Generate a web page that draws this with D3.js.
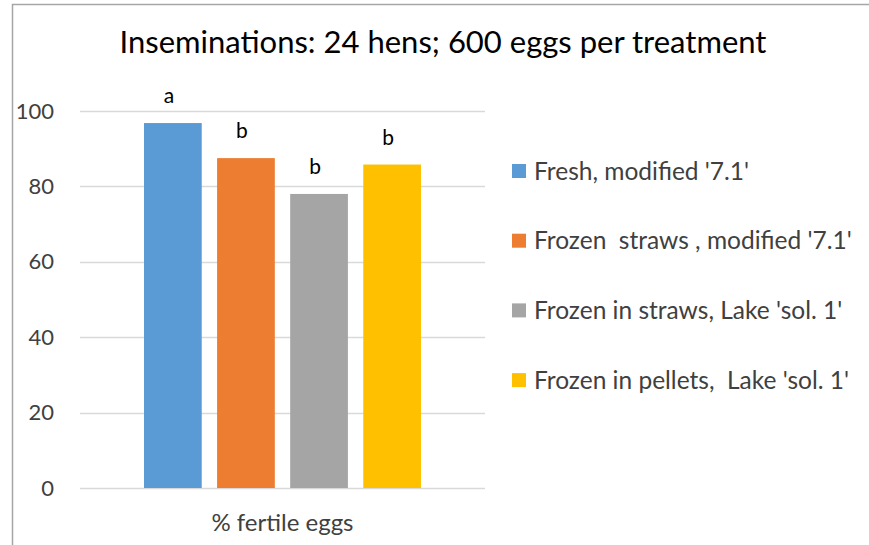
<!DOCTYPE html>
<html>
<head>
<meta charset="utf-8">
<script src="https://cdn.jsdelivr.net/npm/d3@7"></script>
<style>
    body { margin: 0; background: #fff; }
    text { font-family: Lato, "Open Sans", sans-serif; }
</style>
</head>
<body>
<div id="chart"></div>
<script>
// chart data
var treatments = ["Fresh, modified '7.1'", "Frozen  straws , modified '7.1'", "Frozen in straws, Lake 'sol. 1'", "Frozen in pellets,  Lake 'sol. 1'"];
var fertile = [96.8, 87.5, 78, 85.8];
var letters = ["a", "b", "b", "b"];
var colors = ["#5b9bd5", "#ed7d31", "#a5a5a5", "#ffc000"];
var yTicks = [0, 20, 40, 60, 80, 100];

var svgWidth = 869;
var svgHeight = 545;

var svg = d3.select("#chart")
    .append("svg")
    .attr("width", svgWidth)
    .attr("height", svgHeight);

// frame (top and left edges only visible)
svg.append("path")
    .attr("d", "M12.5,545 V4.5 H869")
    .attr("fill", "none")
    .attr("stroke", "#a6a6a6")
    .attr("stroke-width", 1.5);

// scales
var yScale = d3.scaleLinear()
    .domain([0, 100])
    .range([488, 111]);

var xScale = d3.scaleBand()
    .domain(treatments)
    .range([144, 421])
    .paddingInner(0.21)
    .paddingOuter(0);

var plotLeft = 80, plotRight = 485;

// gridlines
svg.append("g")
    .selectAll("line")
    .data(yTicks)
    .enter()
    .append("line")
    .attr("x1", plotLeft)
    .attr("x2", plotRight)
    .attr("y1", d => Math.round(yScale(d)) + 0.5)
    .attr("y2", d => Math.round(yScale(d)) + 0.5)
    .attr("stroke", "#d9d9d9")
    .attr("stroke-width", 1.5);

// y axis labels
var leftAxis = d3.axisLeft(yScale).tickValues(yTicks).tickSize(0).tickPadding(0);
var yAxis = svg.append("g")
    .attr("transform", "translate(54,0)")
    .call(leftAxis);
yAxis.select(".domain").remove();
yAxis.selectAll("text")
    .attr("font-size", "22px")
    .attr("font-family", "Lato, 'Open Sans', sans-serif")
    .attr("fill", "#404040");

// bars
svg.selectAll(".bar")
    .data(treatments)
    .enter()
    .append("rect")
    .attr("class", "bar")
    .attr("x", d => xScale(d))
    .attr("width", xScale.bandwidth())
    .attr("y", (d, i) => yScale(fertile[i]))
    .attr("height", (d, i) => yScale(0) - yScale(fertile[i]))
    .attr("fill", (d, i) => colors[i]);

// significance letters
svg.selectAll(".letter")
    .data(treatments)
    .enter()
    .append("text")
    .attr("class", "letter")
    .attr("x", d => xScale(d) + xScale.bandwidth() / 2 - 4)
    .attr("y", (d, i) => yScale(fertile[i]) - 20)
    .attr("text-anchor", "middle")
    .attr("font-size", "21px")
    .attr("fill", "#000")
    .text((d, i) => letters[i]);

// x axis label
svg.append("text")
    .attr("x", (plotLeft + plotRight) / 2)
    .attr("y", 531)
    .attr("text-anchor", "middle")
    .attr("font-size", "24px")
    .attr("fill", "#404040")
    .text("% fertile eggs");

// title
svg.append("text")
    .attr("x", 443)
    .attr("y", 53)
    .attr("text-anchor", "middle")
    .attr("font-size", "31px")
    .attr("fill", "#000")
    .text("Inseminations: 24 hens; 600 eggs per treatment");

// legend
var legend = svg.selectAll(".legend")
    .data(treatments)
    .enter()
    .append("g")
    .attr("class", "legend")
    .attr("transform", (d, i) => `translate(512, ${171 + i * 69.7})`);

legend.append("rect")
    .attr("x", 0)
    .attr("y", -7)
    .attr("width", 14)
    .attr("height", 14)
    .attr("fill", (d, i) => colors[i]);

legend.append("text")
    .attr("x", 22)
    .attr("y", 8.5)
    .attr("font-size", "24.5px")
    .attr("fill", "#404040")
    .attr("xml:space", "preserve")
    .style("white-space", "pre")
    .text(d => d);
</script>
</body>
</html>
